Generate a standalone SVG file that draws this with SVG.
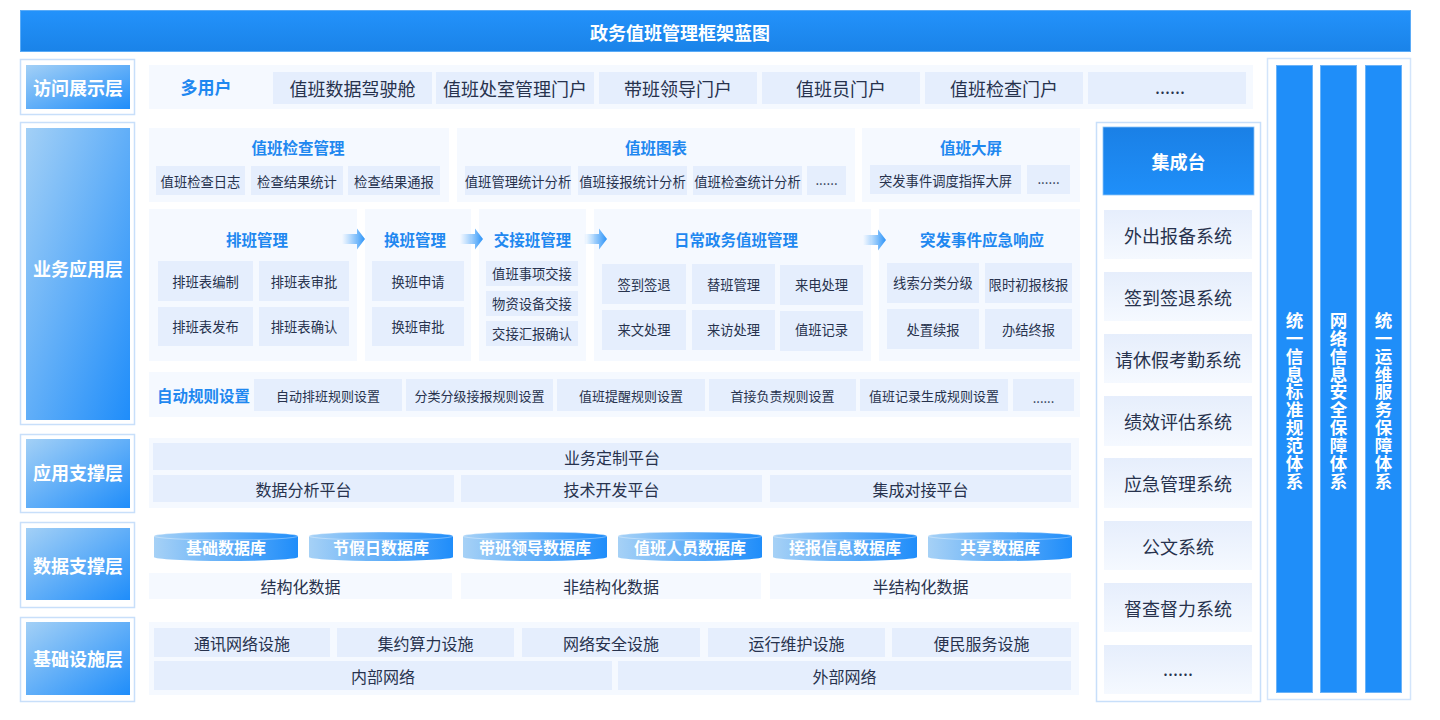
<svg xmlns="http://www.w3.org/2000/svg" width="1440" height="720" viewBox="0 0 1440 720">
<defs>
<linearGradient id="gTitle" x1="0" y1="0" x2="0" y2="1"><stop offset="0" stop-color="#2392fb"/><stop offset="1" stop-color="#1a83e8"/></linearGradient>
<linearGradient id="gLayer" x1="0" y1="0" x2="1" y2="1"><stop offset="0" stop-color="#a3d0f6"/><stop offset="1" stop-color="#1f8dfa"/></linearGradient>
<linearGradient id="gJct" x1="0" y1="0" x2="0" y2="1"><stop offset="0" stop-color="#1a80e6"/><stop offset="1" stop-color="#1f8ff9"/></linearGradient>
<linearGradient id="gSys" x1="0" y1="0" x2="0" y2="1"><stop offset="0" stop-color="#e6eefc"/><stop offset="1" stop-color="#f5f9ff"/></linearGradient>
<linearGradient id="gDb" x1="0" y1="0" x2="1" y2="0"><stop offset="0" stop-color="#a6d1f6"/><stop offset="1" stop-color="#1f8dfa"/></linearGradient>
<linearGradient id="gArrow" x1="0" y1="0" x2="1" y2="0"><stop offset="0" stop-color="#4aa6fa" stop-opacity="0"/><stop offset="1" stop-color="#2b93f8"/></linearGradient>
<style>
text{font-family:"Noto Sans CJK SC","Noto Sans",sans-serif;dominant-baseline:central;text-anchor:middle}
.title{fill:#fff;font-size:18px;font-weight:bold}
.lout{fill:#fff;stroke:#c8dffa;stroke-width:1.5}
.lin{fill:url(#gLayer)}
.ltxt{fill:#fff;font-size:18px;font-weight:bold}
.panel{fill:#f5f9ff}
.item{fill:#e5eefd}
.light{fill:#f5f9ff}
.sys{fill:url(#gSys)}
.t18{fill:#27324d;font-size:18px}
.t16{fill:#27324d;font-size:16px}
.t13{fill:#27324d;font-size:13.3px}
.t13s{fill:#27324d;font-size:13px}
.ptitle{fill:#1f88f0;font-size:15.5px;font-weight:bold}
.user{fill:#1f88f0;font-size:17px;font-weight:bold}
.db{fill:url(#gDb)}
.dbrim{fill:none;stroke:#ffffff;stroke-opacity:0.45;stroke-width:0.8}
.dbt{fill:#fff;font-size:16px;font-weight:bold}
.bar{fill:#1f8ef9;stroke:#6bb3f8;stroke-width:1}
.vt{fill:#fff;font-size:17.5px;font-weight:bold;writing-mode:vertical-rl;letter-spacing:0.4px}
.arrow{fill:url(#gArrow)}
</style>
</defs>
<rect width="1440" height="720" fill="#ffffff"/>

<g id="title">
<rect x="20.5" y="10.5" width="1390" height="41" fill="url(#gTitle)" stroke="#5aabf7" stroke-width="1"/>
<text class="title" x="680" y="32">政务值班管理框架蓝图</text>
</g>

<!-- layer labels -->
<g id="layer-access">
<rect class="lout" x="20.5" y="59.5" width="114" height="55"/>
<rect class="lin" x="26" y="65" width="104" height="44"/>
<text class="ltxt" x="78" y="87">访问展示层</text>
</g>
<g id="layer-business">
<rect class="lout" x="20.5" y="122.5" width="114" height="302"/>
<rect class="lin" x="26" y="128" width="104" height="292"/>
<text class="ltxt" x="78" y="268">业务应用层</text>
</g>
<g id="layer-appsupport">
<rect class="lout" x="20.5" y="434.5" width="114" height="78"/>
<rect class="lin" x="26" y="439" width="104" height="69"/>
<text class="ltxt" x="78" y="472">应用支撑层</text>
</g>
<g id="layer-datasupport">
<rect class="lout" x="20.5" y="522.5" width="114" height="85"/>
<rect class="lin" x="26" y="528" width="104" height="72"/>
<text class="ltxt" x="78" y="565">数据支撑层</text>
</g>
<g id="layer-infra">
<rect class="lout" x="20.5" y="617.5" width="114" height="84"/>
<rect class="lin" x="26" y="622" width="104" height="73"/>
<text class="ltxt" x="78" y="658">基础设施层</text>
</g>

<!-- access row -->
<g id="access-row">
<rect class="panel" x="149" y="65" width="1104" height="44"/>
<text class="user" x="206" y="86">多用户</text>
<rect class="item" x="273" y="72" width="159" height="32"/><text class="t18" x="352.5" y="88">值班数据驾驶舱</text>
<rect class="item" x="436" y="72" width="158" height="32"/><text class="t18" x="515" y="88">值班处室管理门户</text>
<rect class="item" x="599" y="72" width="158" height="32"/><text class="t18" x="678" y="88">带班领导门户</text>
<rect class="item" x="762" y="72" width="158" height="32"/><text class="t18" x="841" y="88">值班员门户</text>
<rect class="item" x="925" y="72" width="158" height="32"/><text class="t18" x="1004" y="88">值班检查门户</text>
<rect class="item" x="1088" y="72" width="158" height="32"/><text class="t18" x="1170" y="86">......</text>
</g>

<!-- business row 1 -->
<g id="duty-inspection">
<rect class="panel" x="149" y="128" width="300" height="74"/>
<text class="ptitle" x="298" y="147">值班检查管理</text>
<rect class="item" x="156" y="166" width="89" height="29"/><text class="t13" x="200.5" y="181">值班检查日志</text>
<rect class="item" x="251" y="166" width="92" height="29"/><text class="t13" x="297" y="181">检查结果统计</text>
<rect class="item" x="348" y="166" width="92" height="29"/><text class="t13" x="394" y="181">检查结果通报</text>
</g>
<g id="duty-charts">
<rect class="panel" x="457" y="128" width="398" height="74"/>
<text class="ptitle" x="656" y="147">值班图表</text>
<rect class="item" x="465" y="166" width="106" height="29"/><text class="t13" x="518" y="181">值班管理统计分析</text>
<rect class="item" x="578" y="166" width="109" height="29"/><text class="t13" x="632.5" y="181">值班接报统计分析</text>
<rect class="item" x="693" y="166" width="109" height="29"/><text class="t13" x="747.5" y="181">值班检查统计分析</text>
<rect class="item" x="807" y="166" width="39" height="29"/><text class="t13" x="826.5" y="179">......</text>
</g>
<g id="duty-screen">
<rect class="panel" x="862" y="128" width="218" height="74"/>
<text class="ptitle" x="971" y="147">值班大屏</text>
<rect class="item" x="870" y="165" width="151" height="29"/><text class="t13" x="945.5" y="180">突发事件调度指挥大屏</text>
<rect class="item" x="1027" y="165" width="43" height="29"/><text class="t13" x="1048.5" y="178">......</text>
</g>

<!-- business row 2 -->
<g id="scheduling">
<rect class="panel" x="149" y="209" width="208" height="152"/>
<text class="ptitle" x="257" y="239">排班管理</text>
<rect class="item" x="158" y="261" width="95" height="40"/><text class="t13" x="205.5" y="281">排班表编制</text>
<rect class="item" x="259" y="261" width="90" height="40"/><text class="t13" x="304" y="281">排班表审批</text>
<rect class="item" x="158" y="307" width="95" height="39"/><text class="t13" x="205.5" y="326.5">排班表发布</text>
<rect class="item" x="259" y="307" width="90" height="39"/><text class="t13" x="304" y="326.5">排班表确认</text>
</g>
<g id="shift-swap">
<rect class="panel" x="365" y="209" width="106" height="152"/>
<text class="ptitle" x="415" y="239">换班管理</text>
<rect class="item" x="372" y="261" width="92" height="40"/><text class="t13" x="418" y="281">换班申请</text>
<rect class="item" x="372" y="307" width="92" height="39"/><text class="t13" x="418" y="326.5">换班审批</text>
</g>
<g id="handover">
<rect class="panel" x="479" y="209" width="107" height="152"/>
<text class="ptitle" x="532.5" y="239">交接班管理</text>
<rect class="item" x="486" y="261" width="92" height="25"/><text class="t13" x="532" y="273.5">值班事项交接</text>
<rect class="item" x="486" y="291" width="92" height="25"/><text class="t13" x="532" y="303.5">物资设备交接</text>
<rect class="item" x="486" y="321" width="92" height="25"/><text class="t13" x="532" y="333.5">交接汇报确认</text>
</g>
<g id="daily-duty">
<rect class="panel" x="594" y="209" width="277" height="152"/>
<text class="ptitle" x="736" y="239">日常政务值班管理</text>
<rect class="item" x="602" y="264" width="84" height="40"/><text class="t13" x="644" y="284">签到签退</text>
<rect class="item" x="692" y="264" width="83" height="40"/><text class="t13" x="733.5" y="284">替班管理</text>
<rect class="item" x="780" y="265" width="83" height="40"/><text class="t13" x="821.5" y="284">来电处理</text>
<rect class="item" x="602" y="310" width="84" height="40"/><text class="t13" x="644" y="329">来文处理</text>
<rect class="item" x="692" y="310" width="83" height="40"/><text class="t13" x="733.5" y="329">来访处理</text>
<rect class="item" x="780" y="311" width="83" height="40"/><text class="t13" x="821.5" y="329">值班记录</text>
</g>
<g id="emergency">
<rect class="panel" x="879" y="209" width="201" height="152"/>
<text class="ptitle" x="982" y="239">突发事件应急响应</text>
<rect class="item" x="887" y="263" width="92" height="40"/><text class="t13" x="933" y="282">线索分类分级</text>
<rect class="item" x="985" y="263" width="87" height="40"/><text class="t13" x="1028.5" y="284">限时初报核报</text>
<rect class="item" x="887" y="309" width="92" height="40"/><text class="t13" x="933" y="329">处置续报</text>
<rect class="item" x="985" y="309" width="87" height="40"/><text class="t13" x="1028.5" y="329">办结终报</text>
</g>

<g id="connectors">
<polygon class="arrow" points="342,234 357,234 357,228.5 365,239 357,249.5 357,244 342,244"/>
<polygon class="arrow" points="460,234 475,234 475,228.5 483,239 475,249.5 475,244 460,244"/>
<polygon class="arrow" points="584,234 599,234 599,228.5 607,239 599,249.5 599,244 584,244"/>
<polygon class="arrow" points="863,235 878,235 878,229.5 886,240 878,250.5 878,245 863,245"/>
</g>

<!-- auto rules -->
<g id="auto-rules">
<rect class="panel" x="149" y="372" width="931" height="45"/>
<text class="ptitle" x="203.5" y="395">自动规则设置</text>
<rect class="item" x="254" y="379" width="148" height="32"/><text class="t13s" x="328" y="395">自动排班规则设置</text>
<rect class="item" x="406" y="379" width="147" height="32"/><text class="t13s" x="479.5" y="395">分类分级接报规则设置</text>
<rect class="item" x="557" y="379" width="148" height="32"/><text class="t13s" x="631" y="395">值班提醒规则设置</text>
<rect class="item" x="709" y="379" width="147" height="32"/><text class="t13s" x="782.5" y="395">首接负责规则设置</text>
<rect class="item" x="860" y="379" width="148" height="32"/><text class="t13s" x="934" y="395">值班记录生成规则设置</text>
<rect class="item" x="1013" y="379" width="61" height="32"/><text class="t13s" x="1043.5" y="397">......</text>
</g>

<!-- application support -->
<g id="app-support">
<rect class="panel" x="149" y="438" width="930" height="70"/>
<rect class="item" x="153" y="443" width="918" height="27"/><text class="t16" x="612" y="457">业务定制平台</text>
<rect class="item" x="153" y="475" width="301" height="27"/><text class="t16" x="303.5" y="489">数据分析平台</text>
<rect class="item" x="461" y="475" width="301" height="27"/><text class="t16" x="611.5" y="489">技术开发平台</text>
<rect class="item" x="770" y="475" width="301" height="27"/><text class="t16" x="920.5" y="489">集成对接平台</text>
</g>

<!-- data support -->
<g id="databases">
<path class="db" d="M154,536 A72,4 0 0 1 298,536 V557 A72,4 0 0 1 154,557 Z"/><ellipse class="dbrim" cx="226" cy="536" rx="72" ry="4"/><text class="dbt" x="226" y="547">基础数据库</text>
<path class="db" d="M309,536 A72,4 0 0 1 453,536 V557 A72,4 0 0 1 309,557 Z"/><ellipse class="dbrim" cx="381" cy="536" rx="72" ry="4"/><text class="dbt" x="381" y="547">节假日数据库</text>
<path class="db" d="M463,536 A72,4 0 0 1 607,536 V557 A72,4 0 0 1 463,557 Z"/><ellipse class="dbrim" cx="535" cy="536" rx="72" ry="4"/><text class="dbt" x="535" y="547">带班领导数据库</text>
<path class="db" d="M618,536 A72,4 0 0 1 762,536 V557 A72,4 0 0 1 618,557 Z"/><ellipse class="dbrim" cx="690" cy="536" rx="72" ry="4"/><text class="dbt" x="690" y="547">值班人员数据库</text>
<path class="db" d="M773,536 A72,4 0 0 1 917,536 V557 A72,4 0 0 1 773,557 Z"/><ellipse class="dbrim" cx="845" cy="536" rx="72" ry="4"/><text class="dbt" x="845" y="547">接报信息数据库</text>
<path class="db" d="M928,536 A72,4 0 0 1 1072,536 V557 A72,4 0 0 1 928,557 Z"/><ellipse class="dbrim" cx="1000" cy="536" rx="72" ry="4"/><text class="dbt" x="1000" y="547">共享数据库</text>
</g>
<g id="data-types">
<rect class="light" x="149" y="573" width="303" height="26"/><text class="t16" x="300.5" y="586">结构化数据</text>
<rect class="light" x="461" y="573" width="300" height="26"/><text class="t16" x="611" y="586">非结构化数据</text>
<rect class="light" x="770" y="573" width="301" height="26"/><text class="t16" x="920.5" y="586">半结构化数据</text>
</g>

<!-- infrastructure -->
<g id="infrastructure">
<rect class="panel" x="149" y="622" width="930" height="73"/>
<rect class="item" x="154" y="628" width="176" height="29"/><text class="t16" x="242" y="642.5">通讯网络设施</text>
<rect class="item" x="337" y="628" width="177" height="29"/><text class="t16" x="425.5" y="642.5">集约算力设施</text>
<rect class="item" x="522" y="628" width="178" height="29"/><text class="t16" x="611" y="642.5">网络安全设施</text>
<rect class="item" x="708" y="628" width="177" height="29"/><text class="t16" x="796.5" y="642.5">运行维护设施</text>
<rect class="item" x="892" y="628" width="179" height="29"/><text class="t16" x="981.5" y="642.5">便民服务设施</text>
<rect class="item" x="154" y="661" width="458" height="29"/><text class="t16" x="383" y="675.5">内部网络</text>
<rect class="item" x="618" y="661" width="453" height="29"/><text class="t16" x="844.5" y="675.5">外部网络</text>
</g>

<!-- integration column -->
<g id="integration">
<rect x="1096.5" y="122.5" width="164" height="579" fill="#fff" stroke="#c8dffa" stroke-width="1.5"/>
<rect x="1103" y="127" width="151" height="68" fill="url(#gJct)" stroke="#8cc4f8" stroke-width="0.8"/>
<text x="1178.5" y="161" fill="#fff" font-size="18" font-weight="bold">集成台</text>
<rect class="sys" x="1104" y="210" width="148" height="49"/><text class="t18" x="1178" y="234.5">外出报备系统</text>
<rect class="sys" x="1104" y="272" width="148" height="49"/><text class="t18" x="1178" y="296.5">签到签退系统</text>
<rect class="sys" x="1104" y="334" width="148" height="49"/><text class="t18" x="1178" y="358.5">请休假考勤系统</text>
<rect class="sys" x="1104" y="396" width="148" height="50"/><text class="t18" x="1178" y="420.5">绩效评估系统</text>
<rect class="sys" x="1104" y="458" width="148" height="50"/><text class="t18" x="1178" y="483">应急管理系统</text>
<rect class="sys" x="1104" y="521" width="148" height="49"/><text class="t18" x="1178" y="545.5">公文系统</text>
<rect class="sys" x="1104" y="583" width="148" height="49"/><text class="t18" x="1178" y="607.5">督查督力系统</text>
<rect class="sys" x="1104" y="645" width="148" height="49"/><text class="t18" x="1178" y="668">......</text>
</g>

<!-- vertical systems -->
<g id="systems">
<rect x="1267.5" y="58.5" width="143" height="641" fill="#fff" stroke="#d3e5fb" stroke-width="1.5"/>
</g>
<g id="std-system">
<rect class="bar" x="1276.5" y="65.5" width="36" height="627"/>
<text class="vt" x="1294.5" y="401">统一信息标准规范体系</text>
</g>
<g id="security-system">
<rect class="bar" x="1320.5" y="65.5" width="36" height="627"/>
<text class="vt" x="1338.5" y="401">网络信息安全保障体系</text>
</g>
<g id="ops-system">
<rect class="bar" x="1365.5" y="65.5" width="36" height="627"/>
<text class="vt" x="1383.5" y="401">统一运维服务保障体系</text>
</g>
</svg>
